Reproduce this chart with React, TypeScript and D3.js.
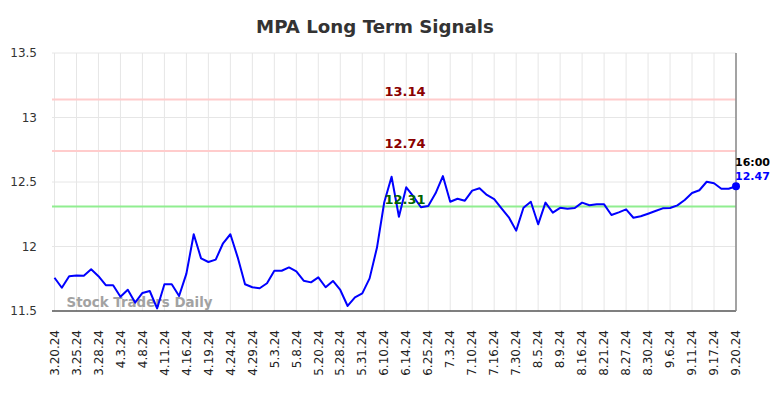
import React from "react";
import * as d3 from "d3";

const values: number[] = [
  11.758, 11.68, 11.77, 11.775, 11.774, 11.823, 11.77, 11.70, 11.70, 11.61,
  11.665, 11.565, 11.64, 11.655, 11.52, 11.707, 11.707, 11.616, 11.79, 12.095,
  11.908, 11.88, 11.898, 12.025, 12.095, 11.916, 11.707, 11.684, 11.676, 11.715,
  11.812, 11.812, 11.838, 11.808, 11.735, 11.722, 11.761, 11.684, 11.733, 11.663,
  11.539, 11.606, 11.637, 11.753, 11.99, 12.343, 12.541, 12.231, 12.459, 12.386,
  12.304, 12.314, 12.412, 12.546, 12.347, 12.37, 12.355, 12.433, 12.451, 12.40,
  12.368, 12.296, 12.226, 12.123, 12.30, 12.347, 12.172, 12.34, 12.262, 12.30,
  12.293, 12.298, 12.34, 12.32, 12.327, 12.327, 12.244, 12.265, 12.288, 12.223,
  12.234, 12.254, 12.275, 12.296, 12.298, 12.319, 12.36, 12.415, 12.436, 12.502,
  12.49, 12.448, 12.448, 12.467,
];

const tickLabels: string[] = [
  "3.20.24", "3.25.24", "3.28.24", "4.3.24", "4.8.24", "4.11.24", "4.16.24", "4.19.24",
  "4.24.24", "4.29.24", "5.3.24", "5.8.24", "5.20.24", "5.28.24", "5.31.24", "6.10.24",
  "6.14.24", "6.25.24", "7.3.24", "7.10.24", "7.16.24", "7.30.24", "8.5.24", "8.9.24",
  "8.16.24", "8.21.24", "8.27.24", "8.30.24", "9.6.24", "9.11.24", "9.17.24", "9.20.24",
];
const tickEvery = 3;

const yTicks: number[] = [11.5, 12, 12.5, 13, 13.5];
const redLevels: number[] = [13.14, 12.74];
const greenLevels: number[] = [12.31];
const lastTime = "16:00";

const W = 784;
const H = 398;
const plotLeft = 52;
const plotRight = 736;
const plotTop = 53;
const plotBottom = 311;
const font = "'DejaVu Sans', sans-serif";

export default function App() {
  const x = d3.scaleLinear().domain([0, values.length - 1]).range([54.5, plotRight]);
  const y = d3.scaleLinear().domain([11.5, 13.5]).range([plotBottom, plotTop]);
  const line = d3.line<number>().x((_, i) => x(i)).y((d) => y(d));
  const last = values.length - 1;
  const labelX = 405;

  return (
    <svg width={W} height={H} style={{ position: "absolute", left: 0, top: 0 }} fontFamily={font}>
      <rect x={0} y={0} width={W} height={H} fill="#fff" />
      <text x={375} y={32.5} textAnchor="middle" fontSize={18.2} fontWeight="bold" fill="#333">
        MPA Long Term Signals
      </text>
      {yTicks.map((t) => (
        <g key={"y" + t}>
          {t !== 11.5 && (
            <line x1={plotLeft} x2={plotRight} y1={y(t)} y2={y(t)} stroke="#e6e6e6" strokeWidth={1} />
          )}
          <text x={37} y={y(t)} dy="0.35em" textAnchor="end" fontSize={12} fill="#333">
            {String(t)}
          </text>
        </g>
      ))}
      {tickLabels.map((lab, k) => {
        const xi = x(k * tickEvery);
        return (
          <g key={"x" + k}>
            <line x1={xi} x2={xi} y1={plotTop} y2={plotBottom} stroke="#e6e6e6" strokeWidth={1} />
            <text
              transform={`translate(${xi},330) rotate(-90)`}
              dy="0.35em"
              textAnchor="end"
              fontSize={12}
              fill="#222"
            >
              {lab}
            </text>
          </g>
        );
      })}
      {redLevels.map((v) => (
        <line key={"r" + v} x1={plotLeft} x2={plotRight} y1={y(v)} y2={y(v)} stroke="#ffcccc" strokeWidth={2} />
      ))}
      {greenLevels.map((v) => (
        <line key={"g" + v} x1={plotLeft} x2={plotRight} y1={y(v)} y2={y(v)} stroke="#90ee90" strokeWidth={2} />
      ))}
      <text x={66.5} y={306.5} fontSize={13.4} fontWeight="bold" fill="#999" opacity={0.9}>
        Stock Traders Daily
      </text>
      <line x1={plotLeft} x2={plotRight} y1={plotBottom} y2={plotBottom} stroke="#555" strokeWidth={1.5} />
      <line x1={plotRight} x2={plotRight} y1={plotTop} y2={plotBottom} stroke="#888" strokeWidth={1.5} />
      <path d={line(values) || ""} fill="none" stroke="#0000ff" strokeWidth={2} strokeLinejoin="round" />
      <circle cx={x(last)} cy={y(values[last])} r={4} fill="#0000ff" />
      {redLevels.map((v) => (
        <text key={"rt" + v} x={labelX} y={y(v) - 3} textAnchor="middle" fontSize={13} fontWeight="bold" fill="#8b0000">
          {v.toFixed(2)}
        </text>
      ))}
      {greenLevels.map((v) => (
        <text key={"gt" + v} x={labelX} y={y(v) - 3} textAnchor="middle" fontSize={13} fontWeight="bold" fill="#006400">
          {v.toFixed(2)}
        </text>
      ))}
      <text x={735} y={166} fontSize={11} fontWeight="bold" fill="#000">
        {lastTime}
      </text>
      <text x={735} y={180} fontSize={11} fontWeight="bold" fill="#0000ff">
        {values[last].toFixed(2)}
      </text>
    </svg>
  );
}
